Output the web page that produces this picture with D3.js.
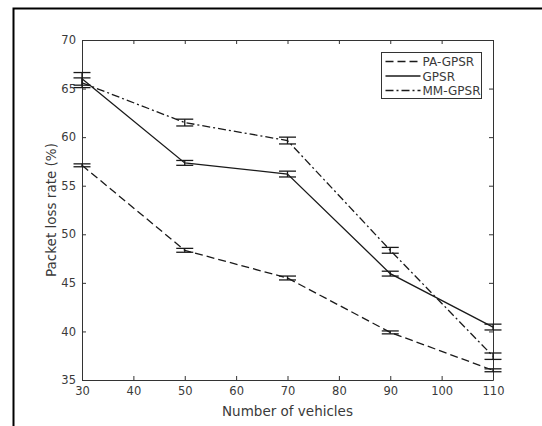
<!DOCTYPE html>
<html>
<head>
<meta charset="utf-8">
<script src="https://cdn.jsdelivr.net/npm/d3@7"></script>
<style>
  body { margin: 0; background: #fff; }
  svg { display: block; }
  text { font-family: "DejaVu Sans", sans-serif; }
</style>
</head>
<body>
<script>
  // Data
  const vehicles = [30, 50, 70, 90, 110];
  const paGpsr = [57.1, 48.35, 45.5, 39.9, 36.0];
  const paGpsrErr = [0.15, 0.2, 0.2, 0.15, 0.15];
  const gpsr = [66.0, 57.35, 56.2, 45.95, 40.45];
  const gpsrErr = [0.65, 0.25, 0.3, 0.25, 0.3];
  const mmGpsr = [65.6, 61.5, 59.65, 48.35, 37.45];
  const mmGpsrErr = [0.5, 0.35, 0.35, 0.3, 0.33];
  const xTicks = [30, 40, 50, 60, 70, 80, 90, 100, 110];
  const yTicks = [35, 40, 45, 50, 55, 60, 65, 70];

  const width = 542;
  const height = 426;
  const plot = { left: 82, right: 493, top: 40, bottom: 380 };
  const textColor = '#3a3a3a';

  const svg = d3.select('body')
    .append('svg')
    .attr('width', width)
    .attr('height', height);

  // outer frame (left and top edge only, the picture is cropped)
  svg.append('path')
    .attr('d', `M13.5,${height} V8.5 H${width}`)
    .attr('fill', 'none')
    .attr('stroke', '#000')
    .attr('stroke-width', 2);

  const x = d3.scaleLinear().domain([30, 110]).range([plot.left, plot.right]);
  const y = d3.scaleLinear().domain([35, 70]).range([plot.bottom, plot.top]);

  const axisColor = '#333';
  const tick = 4;

  // axes with inward ticks on all four sides
  const gx = svg.append('g')
    .attr('transform', `translate(0,${plot.bottom})`)
    .call(d3.axisBottom(x).tickValues(xTicks).tickSizeInner(-tick).tickSizeOuter(0).tickPadding(7));
  const gxTop = svg.append('g')
    .attr('transform', `translate(0,${plot.top})`)
    .call(d3.axisTop(x).tickValues(xTicks).tickSizeInner(-tick).tickSizeOuter(0).tickFormat(''));
  const gy = svg.append('g')
    .attr('transform', `translate(${plot.left},0)`)
    .call(d3.axisLeft(y).tickValues(yTicks).tickSizeInner(-tick).tickSizeOuter(0).tickPadding(6));
  const gyRight = svg.append('g')
    .attr('transform', `translate(${plot.right},0)`)
    .call(d3.axisRight(y).tickValues(yTicks).tickSizeInner(-tick).tickSizeOuter(0).tickFormat(''));

  [gx, gxTop, gy, gyRight].forEach(g => {
    g.selectAll('path, line').attr('stroke', axisColor).attr('stroke-width', 1);
    g.selectAll('text')
      .attr('font-family', '"DejaVu Sans", sans-serif')
      .attr('font-size', 11.5)
      .attr('fill', textColor);
  });

  // axis labels
  svg.append('text')
    .attr('x', (plot.left + plot.right) / 2)
    .attr('y', 416)
    .attr('text-anchor', 'middle')
    .attr('font-size', 13.5)
    .attr('fill', textColor)
    .text('Number of vehicles');

  svg.append('text')
    .attr('transform', `translate(56,${(plot.top + plot.bottom) / 2}) rotate(-90)`)
    .attr('text-anchor', 'middle')
    .attr('font-size', 13.5)
    .attr('fill', textColor)
    .text('Packet loss rate (%)');

  // series
  const series = [
    { name: 'PA-GPSR', values: paGpsr, err: paGpsrErr, dash: '8,4' },
    { name: 'GPSR', values: gpsr, err: gpsrErr, dash: null },
    { name: 'MM-GPSR', values: mmGpsr, err: mmGpsrErr, dash: '8,3,2,3' }
  ];

  const line = d3.line()
    .x((d, i) => x(vehicles[i]))
    .y(d => y(d));

  const capHalf = 8.5;
  const lineColor = '#1a1a1a';

  series.forEach(s => {
    svg.append('path')
      .datum(s.values)
      .attr('d', line)
      .attr('fill', 'none')
      .attr('stroke', lineColor)
      .attr('stroke-width', 1.3)
      .attr('stroke-dasharray', s.dash);

    const eb = svg.append('g').attr('stroke', lineColor).attr('stroke-width', 1.3);
    s.values.forEach((v, i) => {
      const cx = x(vehicles[i]);
      const hi = y(v + s.err[i]);
      const lo = y(v - s.err[i]);
      eb.append('line').attr('x1', cx).attr('x2', cx).attr('y1', hi).attr('y2', lo);
      eb.append('line').attr('x1', cx - capHalf).attr('x2', cx + capHalf).attr('y1', hi).attr('y2', hi);
      eb.append('line').attr('x1', cx - capHalf).attr('x2', cx + capHalf).attr('y1', lo).attr('y2', lo);
    });
  });

  // legend
  const leg = svg.append('g').attr('transform', 'translate(381.5,52.5)');
  leg.append('rect')
    .attr('width', 100)
    .attr('height', 46)
    .attr('fill', '#fff')
    .attr('stroke', axisColor)
    .attr('stroke-width', 1);

  series.forEach((s, i) => {
    const ly = 9 + i * 14.5;
    leg.append('line')
      .attr('x1', 4).attr('x2', 39)
      .attr('y1', ly).attr('y2', ly)
      .attr('stroke', lineColor)
      .attr('stroke-width', 1.3)
      .attr('stroke-dasharray', s.dash);
    leg.append('text')
      .attr('x', 41)
      .attr('y', ly + 4.5)
      .attr('font-size', 12)
      .attr('fill', textColor)
      .text(s.name);
  });
</script>
</body>
</html>
